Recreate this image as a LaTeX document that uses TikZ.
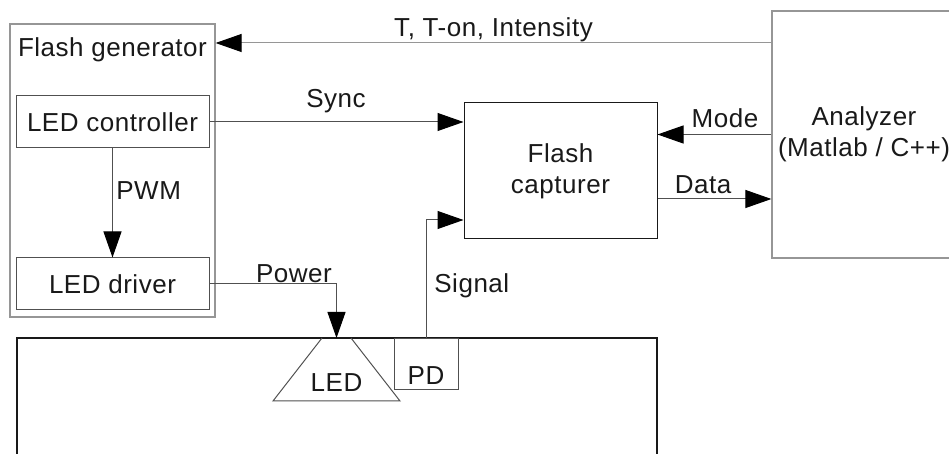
\documentclass[tikz,border=0pt]{standalone}
\usepackage{fontspec}
\setmainfont[LetterSpace=2]{Liberation Sans}
\usetikzlibrary{arrows.meta,fit}
\definecolor{BoxGray}{RGB}{150,150,150}
\definecolor{LineGray}{RGB}{80,80,80}
\definecolor{InkBlack}{RGB}{25,25,25}

\begin{document}
\begin{tikzpicture}[x=0.5pt,y=-0.5pt,
  every node/.style={font=\fontsize{13pt}{15.5pt}\selectfont,text=InkBlack,inner sep=0pt},
  box/.style={draw=LineGray,line width=0.5pt,align=center},
  outer/.style={draw=BoxGray,line width=0.6pt,align=center},
  arr/.style={-{Triangle[length=13pt,width=9pt,color=black]},line width=0.5pt,draw=LineGray}]
  \clip (0,0) rectangle (949,454);
  % blocks
  \node (gen) [outer,fit={(10,24) (215,317)}] {};
  \node (gentitle) [anchor=base] at (112.5,57) {Flash generator};
  \node (ctrl) [box,minimum width=96.5pt,minimum height=26pt] at (112.5,122) {LED controller};
  \node (drv) [box,minimum width=96.5pt,minimum height=26pt] at (112.5,284) {LED driver};
  \node (cap) [box,draw=InkBlack,minimum width=96.5pt,minimum height=68pt] at (560.5,171) {Flash\\capturer};
  \node (ana) [outer,minimum width=92pt,minimum height=123.5pt] at (864,134.5) {Analyzer\\(Matlab / C++)};
  \node (base) [draw=InkBlack,line width=1pt,fit={(17,338) (657,520)}] {};
  % LED lens and photodiode
  \coordinate (ledtop) at (336.5,338);
  \draw[draw=LineGray,line width=0.5pt] (322,338) -- (273,401) -- (400,401) -- (351,338);
  \node (ledtext) [anchor=base] at (336.5,392) {LED};
  \node (pd) [box,minimum width=32pt,minimum height=25.5pt,anchor=north] at (426,338) {};
  \node (pdtext) [anchor=base] at (426,385) {PD};
  % connectors
  \coordinate (tline) at (0,43);
  \draw[arr,draw=BoxGray] (ana.west |- tline) -- (gen.east |- tline);
  \draw[arr] (ctrl.east) -- (ctrl.east -| cap.west);
  \draw[arr] (ctrl.south) -- (drv.north);
  \draw[arr] (drv.east) -| (ledtop);
  \draw[arr] (pd.north) |- ([yshift=-24.5pt]cap.west);
  \draw[arr] (ana.west) -- (ana.west -| cap.east);
  \draw[arr] ([yshift=-14pt]cap.east) -- ([yshift=-14pt]cap.east -| ana.west);
  % labels
  \node (tlab) [anchor=base] at (493.5,37) {T, T-on, Intensity};
  \node (synclab) [anchor=base] at (336,108) {Sync};
  \node (pwmlab) [anchor=base west] at (116,200) {PWM};
  \node (powlab) [anchor=base] at (294,283) {Power};
  \node (siglab) [anchor=base west] at (434,293) {Signal};
  \node (modelab) [anchor=base] at (725,128) {Mode};
  \node (datalab) [anchor=base] at (703,194) {Data};
\end{tikzpicture}
\end{document}
